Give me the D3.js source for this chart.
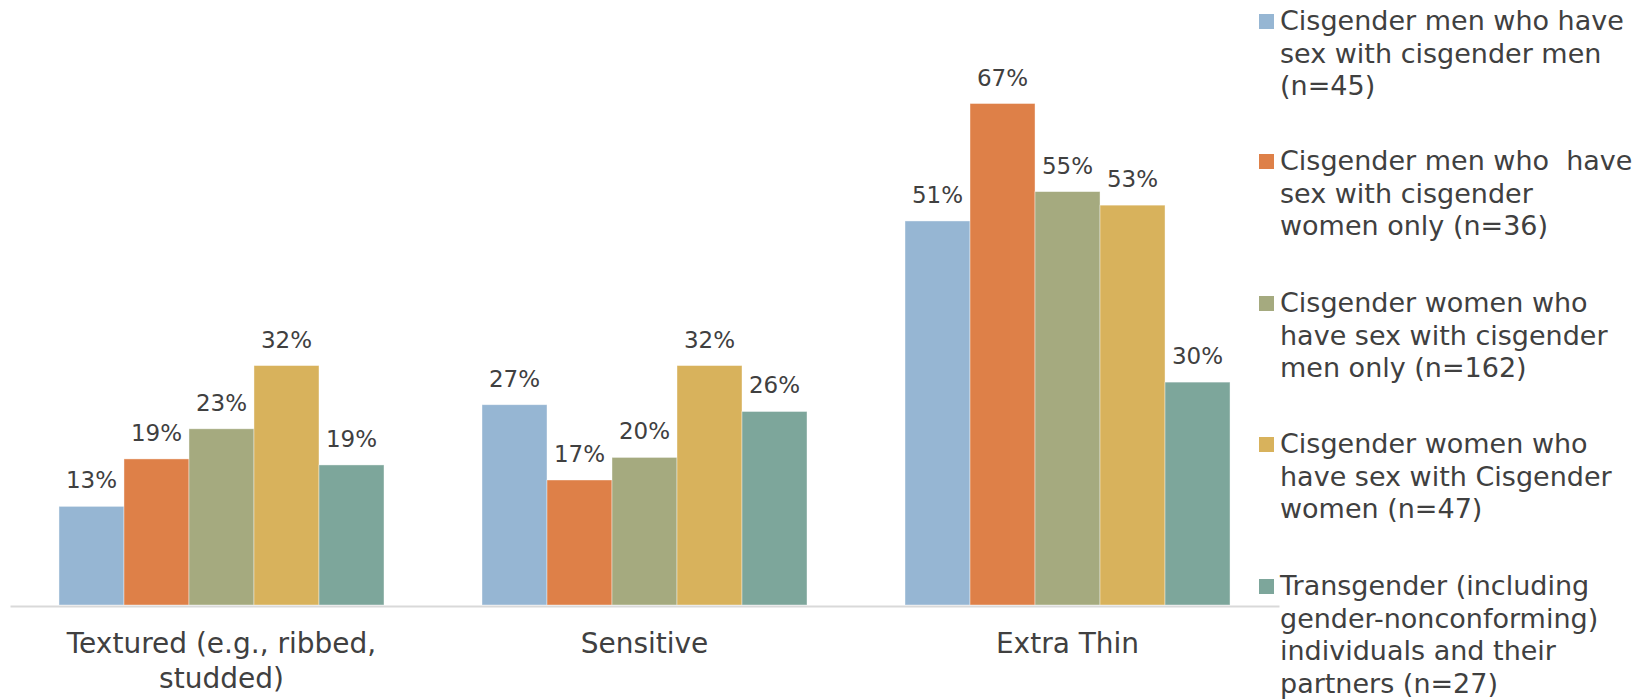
<!DOCTYPE html>
<html>
<head>
<meta charset="utf-8">
<script src="https://cdn.jsdelivr.net/npm/d3@7"></script>
<style>
  html, body { margin: 0; padding: 0; background: #fff; }
  svg text { font-family: "DejaVu Sans", sans-serif; fill: #404040; white-space: pre; }
</style>
</head>
<body>
<svg id="chart" width="1633" height="700"></svg>
<script>
const categories = [["Textured (e.g., ribbed,", "studded)"], ["Sensitive"], ["Extra Thin"]];
const seriesNames = [
  ["Cisgender men who have", "sex with cisgender men", "(n=45)"],
  ["Cisgender men who  have", "sex with cisgender", "women only (n=36)"],
  ["Cisgender women who", "have sex with cisgender", "men only (n=162)"],
  ["Cisgender women who", "have sex with Cisgender", "women (n=47)"],
  ["Transgender (including", "gender-nonconforming)", "individuals and their", "partners (n=27)"]
];
const colors = ["#96B6D3", "#DE8048", "#A5AA7F", "#D8B25C", "#7DA69B"];
// values[series][category], percent
const s1 = [13.1, 26.6, 51.0];
const s2 = [19.4, 16.6, 66.6];
const s3 = [23.4, 19.6, 54.9];
const s4 = [31.8, 31.8, 53.1];
const s5 = [18.6, 25.7, 29.6];
// data labels as printed
const l1 = ["13%", "27%", "51%"];
const l2 = ["19%", "17%", "67%"];
const l3 = ["23%", "20%", "55%"];
const l4 = ["32%", "32%", "53%"];
const l5 = ["19%", "26%", "30%"];
const values = [s1, s2, s3, s4, s5];
const labels = [l1, l2, l3, l4, l5];

const svg = d3.select("#chart");
const baseY = 605;
const x0 = d3.scaleBand().domain(d3.range(categories.length)).range([10, 1279])
  .paddingInner(0.2317).paddingOuter(0.1158);
const x1 = d3.scaleBand().domain(d3.range(values.length)).range([0, x0.bandwidth()]);
const y = d3.scaleLinear().domain([0, 80]).range([baseY, baseY - 80 * 7.53]);

const g = svg.append("g");
categories.forEach((c, ci) => {
  values.forEach((s, si) => {
    const v = s[ci];
    const bx = x0(ci) + x1(si);
    g.append("rect")
      .attr("x", bx).attr("y", y(v))
      .attr("width", x1.bandwidth()).attr("height", y(0) - y(v))
      .attr("fill", colors[si])
      .attr("stroke", "#ffffff").attr("stroke-opacity", 0.5).attr("stroke-width", 0.8);
    g.append("text")
      .attr("x", bx + x1.bandwidth() / 2).attr("y", y(v) - 18)
      .attr("text-anchor", "middle")
      .style("font-size", "23px")
      .text(labels[si][ci]);
  });
});

// axis line
const xAxis = d3.axisBottom(x0).tickSize(0).tickFormat("");
const ax = svg.append("g").attr("transform", `translate(0,${baseY + 1})`).call(xAxis);
ax.select(".domain").attr("stroke", "#D9D9D9").attr("stroke-width", 2);

// category labels
categories.forEach((lines, ci) => {
  const cx = x0(ci) + x0.bandwidth() / 2;
  lines.forEach((ln, li) => {
    svg.append("text")
      .attr("x", cx).attr("y", 653 + li * 35)
      .attr("text-anchor", "middle")
      .style("font-size", "28px")
      .text(ln);
  });
});

// legend
const legStarts = [30, 170, 312, 453, 595];
seriesNames.forEach((lines, si) => {
  const by = legStarts[si];
  svg.append("rect").attr("x", 1259).attr("y", by - 16).attr("width", 15).attr("height", 15)
    .attr("fill", colors[si]);
  lines.forEach((ln, li) => {
    svg.append("text")
      .attr("x", 1280).attr("y", by + li * 32.5)
      .style("font-size", "27px")
      .text(ln);
  });
});
</script>
</body>
</html>
